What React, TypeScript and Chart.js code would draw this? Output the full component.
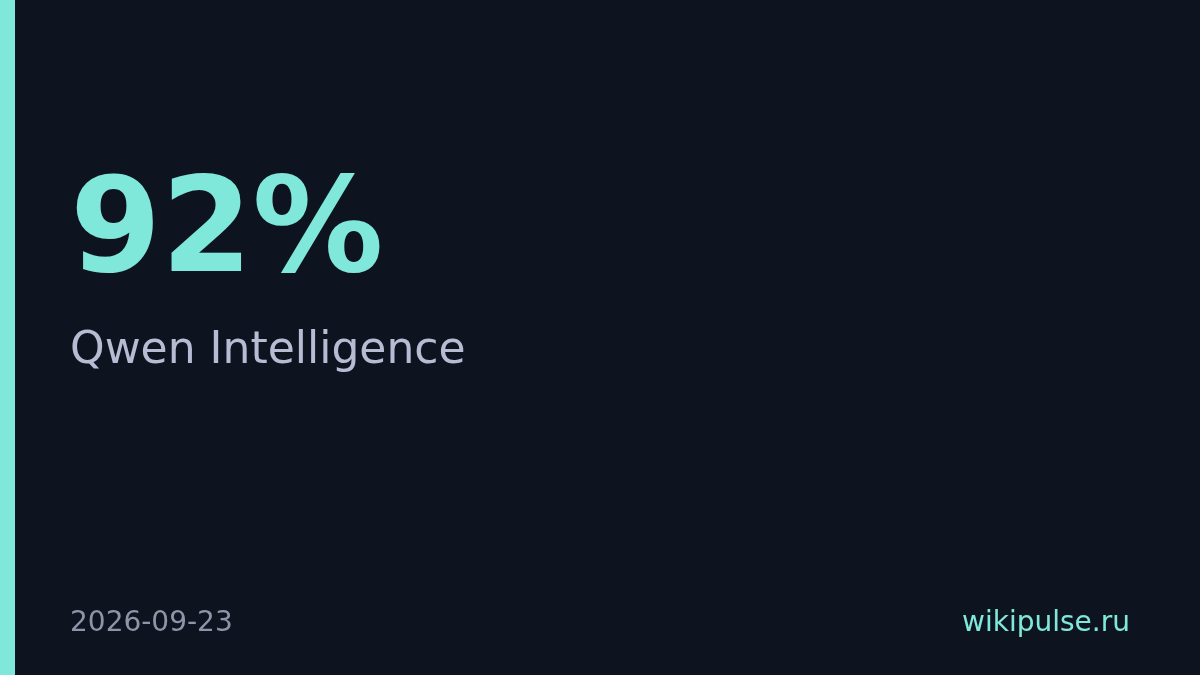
import React, { useEffect, useRef } from "react";
import { Chart, registerables } from "chart.js";

Chart.register(...registerables);

const valueLabels = ["92%"];
const values = [92];
const titleText = "Qwen Intelligence";
const dateText = "2026-09-23";
const siteText = "wikipulse.ru";

const BG = "#0d1420";
const ACCENT = "#80e8da";

const bgPlugin = {
  id: "cardBg",
  beforeDraw(chart: any) {
    const { ctx, width, height } = chart;
    ctx.save();
    ctx.fillStyle = BG;
    ctx.fillRect(0, 0, width, height);
    ctx.fillStyle = ACCENT;
    ctx.fillRect(0, 0, 15, height);
    ctx.restore();
  },
};

export default function App() {
  const ref = useRef<HTMLCanvasElement | null>(null);
  useEffect(() => {
    document.body.style.margin = "0";
    document.body.style.background = BG;
    const chart = new Chart(ref.current!, {
      type: "bar",
      data: {
        labels: valueLabels,
        datasets: [{ data: values, backgroundColor: "rgba(0,0,0,0)", borderWidth: 0 }],
      },
      options: {
        animation: false,
        responsive: false,
        maintainAspectRatio: false,
        plugins: { legend: { display: false }, tooltip: { enabled: false } },
        scales: { x: { display: false }, y: { display: false, min: 0, max: 100 } },
      },
      plugins: [bgPlugin],
    });
    return () => chart.destroy();
  }, []);

  const font = "'DejaVu Sans', sans-serif";
  return (
    <div style={{ position: "relative", width: 1200, height: 675, overflow: "hidden", background: BG }}>
      <canvas ref={ref} width={1200} height={675} style={{ position: "absolute", left: 0, top: 0, width: 1200, height: 675 }} />
      <div style={{ position: "absolute", left: 70, top: 160, fontFamily: font, fontWeight: 700, fontSize: 131, lineHeight: 1, color: ACCENT, whiteSpace: "nowrap" }}>
        {valueLabels[0]}
      </div>
      <div style={{ position: "absolute", left: 70, top: 326, fontFamily: font, fontSize: 44, lineHeight: 1, color: "#b6bcd2", whiteSpace: "nowrap" }}>
        {titleText}
      </div>
      <div style={{ position: "absolute", left: 70, top: 608, fontFamily: font, fontSize: 28, lineHeight: 1, color: "#8e95a8", whiteSpace: "nowrap" }}>
        {dateText}
      </div>
      <div style={{ position: "absolute", right: 70, top: 608, fontFamily: font, fontSize: 28, lineHeight: 1, color: ACCENT, whiteSpace: "nowrap" }}>
        {siteText}
      </div>
    </div>
  );
}
